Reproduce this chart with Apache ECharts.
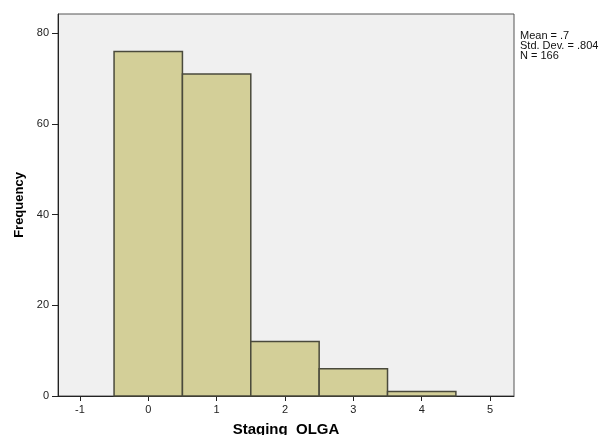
<!DOCTYPE html>
<html>
<head>
<meta charset="utf-8">
<script src="https://cdn.jsdelivr.net/npm/echarts@6/dist/echarts.min.js"></script>
<style>html,body{margin:0;padding:0;background:#fff;}#c{width:608px;height:435px;}</style>
</head>
<body>
<div id="c"></div>
<script>
var binCenters = [0, 1, 2, 3, 4];
var frequencies = [76, 71, 12, 6, 1];
var xTickValues = [-1, 0, 1, 2, 3, 4, 5];
var yTickValues = [0, 20, 40, 60, 80];
var statsLines = ['Mean = .7', 'Std. Dev. = .804', 'N = 166'];
var binWidth = 1;

var data = binCenters.map(function (c, i) { return [c, frequencies[i]]; });
var chart = echarts.init(document.getElementById('c'), null, {renderer: 'canvas'});
var font = 'Liberation Sans, Arial, sans-serif';
chart.setOption({
  animation: false,
  backgroundColor: '#ffffff',
  grid: {left: 58, top: 14, width: 456, height: 382, outerBoundsMode: 'none', containLabel: false,
         show: true, backgroundColor: '#F0F0F0', borderColor: '#555555', borderWidth: 1},
  xAxis: {
    type: 'value', min: -1.32, max: 5.35,
    name: 'Staging_OLGA', nameLocation: 'middle', nameGap: 26,
    nameTextStyle: {fontFamily: font, fontWeight: 'bold', fontSize: 15, color: '#000'},
    axisLine: {show: true, onZero: false, lineStyle: {color: '#222', width: 1}},
    axisTick: {show: true, length: 5, customValues: xTickValues, lineStyle: {color: '#222'}},
    axisLabel: {customValues: xTickValues, fontFamily: font, fontSize: 11, color: '#222', margin: 8},
    splitLine: {show: false}
  },
  yAxis: {
    type: 'value', min: 0, max: 84.26,
    name: 'Frequency', nameLocation: 'middle', nameGap: 32, nameRotate: 90,
    nameTextStyle: {fontFamily: font, fontWeight: 'bold', fontSize: 13, color: '#000'},
    axisLine: {show: true, onZero: false, lineStyle: {color: '#222', width: 1}},
    axisTick: {show: true, length: 6, customValues: yTickValues, lineStyle: {color: '#222'}},
    axisLabel: {customValues: yTickValues, fontFamily: font, fontSize: 11, color: '#222', margin: 9},
    splitLine: {show: false}
  },
  series: [{
    type: 'custom',
    data: data,
    renderItem: function (params, api) {
      var c = api.value(0), v = api.value(1);
      var p0 = api.coord([c - binWidth / 2, v]);
      var p1 = api.coord([c + binWidth / 2, 0]);
      return {
        type: 'rect',
        shape: {x: p0[0], y: p0[1], width: p1[0] - p0[0], height: p1[1] - p0[1]},
        style: {fill: '#D3CF98', stroke: '#4A4A3C', lineWidth: 1.5}
      };
    }
  }],
  graphic: [{
    type: 'text', left: 520, top: 30,
    style: {text: statsLines.join('\n'), fontFamily: font, fontSize: 11, lineHeight: 10, fill: '#111'}
  }]
});
</script>
</body>
</html>
